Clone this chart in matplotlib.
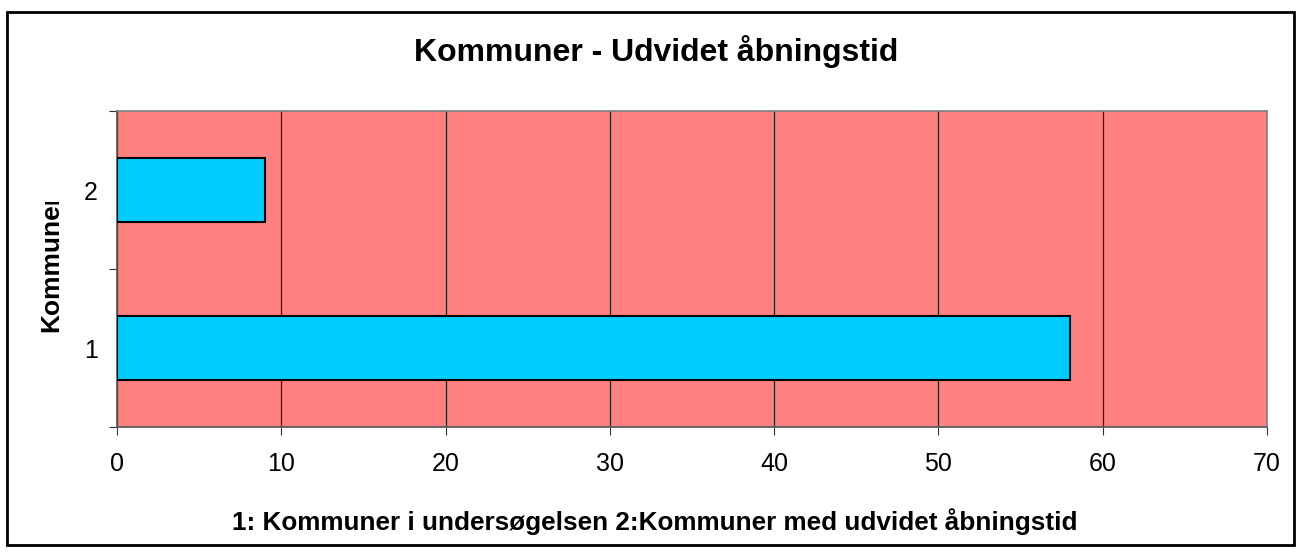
import matplotlib
matplotlib.use("Agg")
import matplotlib.pyplot as plt
from matplotlib.patches import Rectangle
from matplotlib.transforms import Bbox

plt.rcParams['font.family'] = ['Liberation Sans', 'DejaVu Sans']

categories = ["1", "2"]
values = [58, 9]
x_ticks = [0, 10, 20, 30, 40, 50, 60, 70]

title = "Kommuner - Udvidet åbningstid"
xlabel = "1: Kommuner i undersøgelsen 2:Kommuner med udvidet åbningstid"
ylabel = "Kommuner"

fig = plt.figure(figsize=(13.02, 5.53), dpi=100)
ax = fig.add_axes([117/1302, 1-427/553, (1267-117)/1302, (427-111)/553])
ax.set_facecolor("#FF8080")

pos = [1, 2]
ax.barh(pos, values, height=0.4, color="#00CCFF", edgecolor="black", linewidth=1.5, zorder=3)

ax.set_xlim(0, 70)
ax.set_ylim(0.5, 2.5)
ax.set_xticks(x_ticks)
ax.set_xticklabels([str(t) for t in x_ticks], fontsize=18)
ax.set_yticks([0.5, 1.5, 2.5])
ax.set_yticklabels([])
ax.set_yticks(pos, minor=True)
ax.set_yticklabels(categories, minor=True, fontsize=18)
ax.tick_params(axis='y', which='minor', length=0, pad=14)
ax.tick_params(axis='y', which='major', length=6, direction='out', color='#333333')
ax.tick_params(axis='x', length=6, direction='out', color='#333333', pad=12)

ax.grid(axis='x', color='#222222', linewidth=0.9, zorder=1)
ax.set_axisbelow(True)

for s in ['top', 'right']:
    ax.spines[s].set_color('#808080')
    ax.spines[s].set_linewidth(1.2)
for s in ['left', 'bottom']:
    ax.spines[s].set_color('#555555')
    ax.spines[s].set_linewidth(1.2)

fig.text(656/1302, 1-52/553, title, ha='center', va='center', fontsize=23, fontweight='bold')
fig.text(655/1302, 1-522/553, xlabel, ha='center', va='center', fontsize=18.8, fontweight='bold')
yl = fig.text(51/1302, 1-332/553, ylabel, ha='left', va='center', rotation=90,
              rotation_mode='anchor', fontsize=19, fontweight='bold')
yl.set_clip_box(Bbox([[0, 0], [1302, 553-202]]))
yl.set_clip_on(True)

fig.patches.append(Rectangle((7/1302, 1-545/553), (1294-7)/1302, (545-12)/553,
                             transform=fig.transFigure, fill=False, edgecolor='black', linewidth=2))

fig.savefig("out.png", dpi=100)
